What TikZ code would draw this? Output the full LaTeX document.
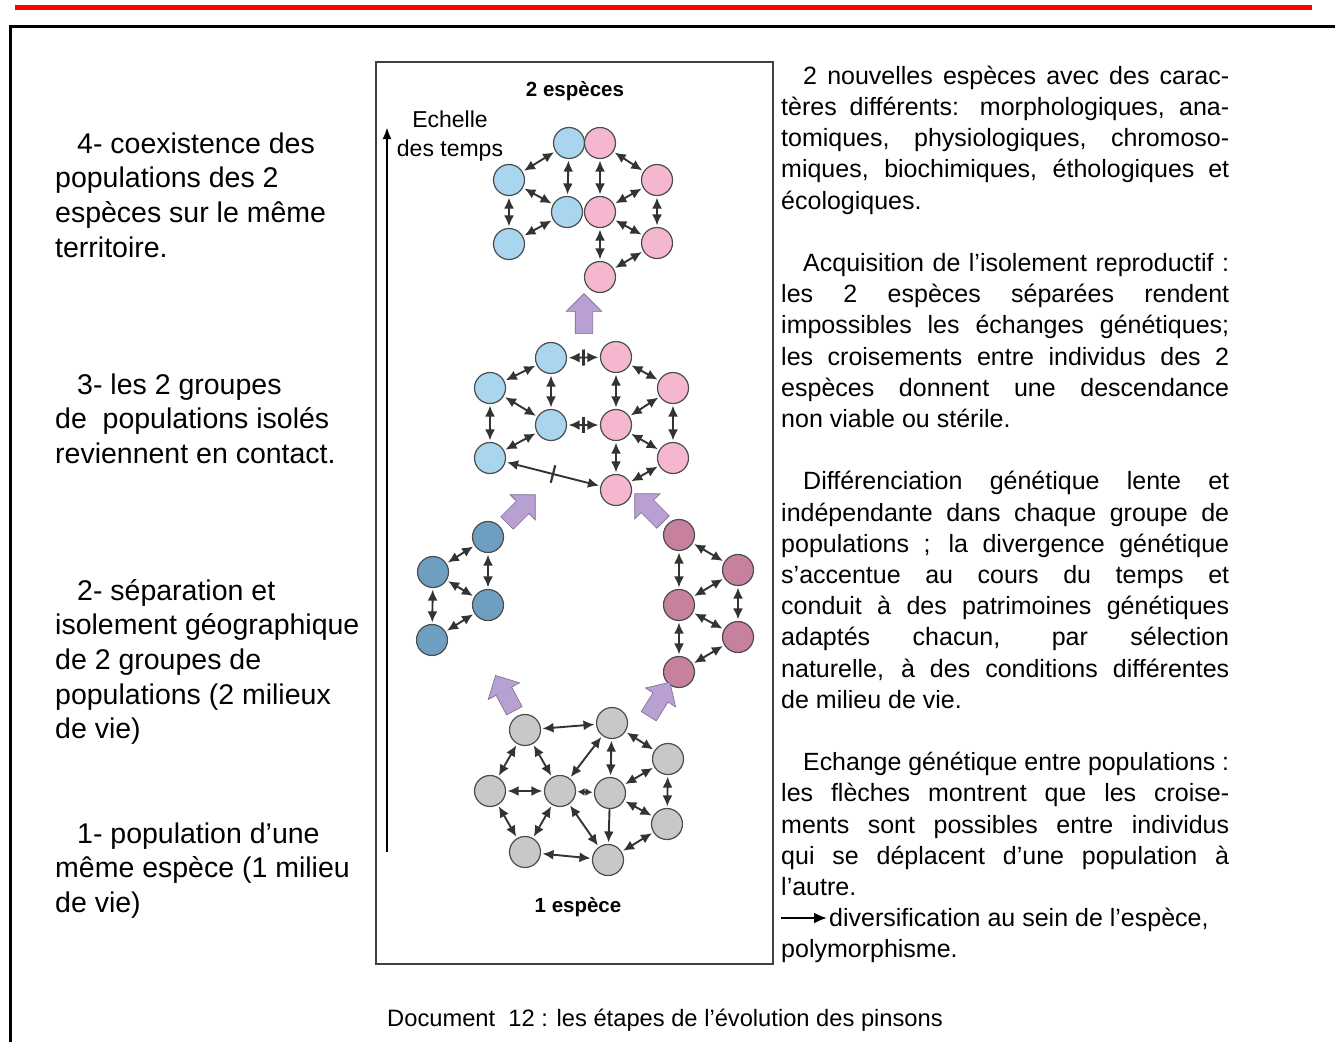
\documentclass[tikz,border=0pt]{standalone}
\usepackage{fontspec}
\setmainfont{Liberation Sans}
\usepackage{graphicx}
\usetikzlibrary{
  arrows.meta,
  positioning,
  shapes.arrows,
  calc
}
\definecolor{evblue}{HTML}{A9D5EF}
\definecolor{evpink}{HTML}{F5B7CF}
\definecolor{evbluedk}{HTML}{6E9EC0}
\definecolor{evpinkdk}{HTML}{C7809E}
\definecolor{evgrey}{HTML}{C8C8C8}
\definecolor{evlink}{HTML}{333333}
\definecolor{evpurple}{HTML}{B9A0D3}
\definecolor{evpurpledk}{HTML}{7C6893}
\definecolor{evred}{HTML}{FF0000}

\newcommand{\jl}[1]{\makebox[448pt][s]{#1}}
\newcommand{\jf}[1]{\hspace*{22pt}\makebox[426pt][s]{#1}}
\newcommand{\lstrut}{\rule{0pt}{22pt}}

\begin{document}
\begin{tikzpicture}[
  x=1pt, y=-1pt,
  every node/.style={inner sep=0pt},
  pop/.style={circle, draw=black!70, line width=1.2pt, minimum size=31pt, inner sep=0pt},
  lien/.style={{Latex[length=11pt,width=10pt]}-{Latex[length=11pt,width=10pt]},
    line width=1.9pt, evlink, shorten <=1.5pt, shorten >=1.5pt},
  lienun/.style={-{Latex[length=11pt,width=10pt]}, line width=1.9pt, evlink, shorten >=1.5pt},
  barre/.style={line width=2.8pt, evlink},
  fleche/.style={single arrow, draw=evpurpledk, fill=evpurple, line width=0.6pt,
    inner sep=8.5pt, minimum height=40pt, single arrow head extend=9pt},
  leftTxt/.style={anchor=north west, align=left, font=\fontsize{28.5}{34.6}\selectfont},
  rightTxt/.style={anchor=north west, align=left, font=\fontsize{25}{31.2}\selectfont},
  tag/.style={font=\bfseries\fontsize{20.5}{24}\selectfont}
]
  \useasboundingbox (0,0) rectangle (1335,1042);

  % Page frame
  \draw[evred, line width=5pt] (15,7) -- (1312,7);
  \draw[line width=3pt] (10,1042) -- (10,26) -- (1335,26);

  % Figure frame
  \draw[line width=1.5pt, black!75] (376,62) rectangle (773,964);
  \node[tag] (tagTwo) at (575,91) {2 espèces};
  \node[tag] (tagOne) at (578,907) {1 espèce};

  % Time scale
  \coordinate (timeLow) at (387,852);
  \coordinate (timeHigh) at (387,127);
  \draw[-{Latex[length=12pt,width=9pt]}, line width=2.4pt] (timeLow) -- (timeHigh);
  \node[align=center, font=\fontsize{23}{29}\selectfont] (timeTxt) at (450,136)
    {Echelle\\des temps};

  % Stage 4: two species
  \node[pop, fill=evblue] (bT1) at (569,143) {};
  \node[pop, fill=evblue] (bT2) at (509,180) {};
  \node[pop, fill=evblue] (bT3) at (567,212) {};
  \node[pop, fill=evblue] (bT4) at (509,244) {};
  \node[pop, fill=evpink] (pT1) at (600,143) {};
  \node[pop, fill=evpink] (pT2) at (657,180) {};
  \node[pop, fill=evpink] (pT3) at (600,212) {};
  \node[pop, fill=evpink] (pT4) at (657,243) {};
  \node[pop, fill=evpink] (pT5) at (600,277) {};

  \draw[lien] (bT1) -- (bT2);
  \draw[lien] (bT1) -- (bT3);
  \draw[lien] (bT2) -- (bT3);
  \draw[lien] (bT2) -- (bT4);
  \draw[lien] (bT3) -- (bT4);
  \draw[lien] (pT1) -- (pT2);
  \draw[lien] (pT1) -- (pT3);
  \draw[lien] (pT2) -- (pT3);
  \draw[lien] (pT2) -- (pT4);
  \draw[lien] (pT3) -- (pT4);
  \draw[lien] (pT3) -- (pT5);
  \draw[lien] (pT4) -- (pT5);

  \node[fleche, rotate=90] (arrTop) at (584,318) {};

  % Stage 3: back in contact
  \node[pop, fill=evblue] (bM1) at (551,358) {};
  \node[pop, fill=evblue] (bM2) at (490,388) {};
  \node[pop, fill=evblue] (bM3) at (551,425) {};
  \node[pop, fill=evblue] (bM4) at (490,458) {};
  \node[pop, fill=evpink] (pM1) at (616,357) {};
  \node[pop, fill=evpink] (pM2) at (673,388) {};
  \node[pop, fill=evpink] (pM3) at (616,425) {};
  \node[pop, fill=evpink] (pM4) at (673,458) {};
  \node[pop, fill=evpink] (pM5) at (616,490) {};

  \draw[lien] (bM1) -- (bM2);
  \draw[lien] (bM1) -- (bM3);
  \draw[lien] (bM2) -- (bM3);
  \draw[lien] (bM2) -- (bM4);
  \draw[lien] (bM3) -- (bM4);
  \draw[lien] (pM1) -- (pM2);
  \draw[lien] (pM1) -- (pM3);
  \draw[lien] (pM2) -- (pM3);
  \draw[lien] (pM2) -- (pM4);
  \draw[lien] (pM3) -- (pM4);
  \draw[lien] (pM3) -- (pM5);
  \draw[lien] (pM4) -- (pM5);

  % Blocked exchanges
  \draw[lien] (bM1) -- (pM1);
  \draw[lien] (bM3) -- (pM3);
  \draw[lien] (bM4) -- (pM5);
  \coordinate (barA) at ($(bM1)!0.5!(pM1)$);
  \coordinate (barB) at ($(bM3)!0.5!(pM3)$);
  \coordinate (barC) at ($(bM4)!0.5!(pM5)$);
  \draw[barre] ($(barA)!8pt!90:(pM1)$) -- ($(barA)!8pt!-90:(pM1)$);
  \draw[barre] ($(barB)!8pt!90:(pM3)$) -- ($(barB)!8pt!-90:(pM3)$);
  \draw[barre, line width=2.2pt] ($(barC)!9pt!90:(pM5)$) -- ($(barC)!9pt!-90:(pM5)$);

  \node[fleche, rotate=45] (arrLeftUp) at (518,512) {};
  \node[fleche, rotate=135] (arrRightUp) at (652,511) {};

  % Stage 2: geographic separation
  \node[pop, fill=evbluedk] (bS1) at (488,537) {};
  \node[pop, fill=evbluedk] (bS2) at (433,572) {};
  \node[pop, fill=evbluedk] (bS3) at (488,605) {};
  \node[pop, fill=evbluedk] (bS4) at (432,640) {};
  \node[pop, fill=evpinkdk] (pS1) at (679,535) {};
  \node[pop, fill=evpinkdk] (pS2) at (738,570) {};
  \node[pop, fill=evpinkdk] (pS3) at (679,605) {};
  \node[pop, fill=evpinkdk] (pS4) at (738,637) {};
  \node[pop, fill=evpinkdk] (pS5) at (679,672) {};

  \draw[lien] (bS1) -- (bS2);
  \draw[lien] (bS1) -- (bS3);
  \draw[lien] (bS2) -- (bS3);
  \draw[lien] (bS2) -- (bS4);
  \draw[lien] (bS3) -- (bS4);
  \draw[lien] (pS1) -- (pS2);
  \draw[lien] (pS1) -- (pS3);
  \draw[lien] (pS2) -- (pS3);
  \draw[lien] (pS2) -- (pS4);
  \draw[lien] (pS3) -- (pS4);
  \draw[lien] (pS3) -- (pS5);
  \draw[lien] (pS4) -- (pS5);

  \node[fleche, rotate=118] (arrLeftLow) at (507,697) {};
  \node[fleche, rotate=58] (arrRightLow) at (657,703) {};

  % Stage 1: one species
  \node[pop, fill=evgrey] (g1) at (525,730) {};
  \node[pop, fill=evgrey] (g2) at (612,723) {};
  \node[pop, fill=evgrey] (g3) at (668,759) {};
  \node[pop, fill=evgrey] (g4) at (490,791) {};
  \node[pop, fill=evgrey] (g5) at (560,791) {};
  \node[pop, fill=evgrey] (g6) at (610,793) {};
  \node[pop, fill=evgrey] (g7) at (667,824) {};
  \node[pop, fill=evgrey] (g8) at (525,852) {};
  \node[pop, fill=evgrey] (g9) at (608,860) {};

  \draw[lien] (g1) -- (g2);
  \draw[lien] (g1) -- (g4);
  \draw[lien] (g1) -- (g5);
  \draw[lien] (g2) -- (g5);
  \draw[lien] (g2) -- (g6);
  \draw[lien] (g2) -- (g3);
  \draw[lien] (g3) -- (g6);
  \draw[lien] (g3) -- (g7);
  \draw[lien] (g4) -- (g5);
  \draw[lien] (g4) -- (g8);
  \draw[lien] (g5) -- (g8);
  \draw[lien, {Latex[length=7pt,width=8pt]}-{Latex[length=7pt,width=8pt]}] (g5) -- (g6);
  \draw[lien] (g5) -- (g9);
  \draw[lien] (g6) -- (g7);
  \draw[lienun] (g6) -- (g9);
  \draw[lien] (g7) -- (g9);
  \draw[lien] (g8) -- (g9);

  % Left legends
  \node[leftTxt] (stage4Txt) at (55,131)
    {\lstrut\hspace*{22pt}4- coexistence des\\populations des 2\\espèces sur le même\\territoire.};
  \node[leftTxt] (stage3Txt) at (55,372)
    {\lstrut\hspace*{22pt}3- les 2 groupes\\de~ populations isolés\\reviennent en contact.};
  \node[leftTxt] (stage2Txt) at (55,578)
    {\lstrut\hspace*{22pt}2- séparation et\\isolement géographique\\de 2 groupes de\\populations (2 milieux\\de vie)};
  \node[leftTxt] (stage1Txt) at (55,821)
    {\lstrut\hspace*{22pt}1- population d'une\\même espèce (1 milieu\\de vie)};

  % Right explanations
  \node[rightTxt] (explTxt) at (781,62)
    {\lstrut\jf{2 nouvelles espèces avec des carac-}\\
     \jl{tères différents: morphologiques, ana-}\\
     \jl{tomiques, physiologiques, chromoso-}\\
     \jl{miques, biochimiques, éthologiques et}\\
     écologiques.\\[31.2pt]
     \jf{Acquisition de l'isolement reproductif :}\\
     \jl{les 2 espèces séparées rendent}\\
     \jl{impossibles les échanges génétiques;}\\
     \jl{les croisements entre individus des 2}\\
     \jl{espèces donnent une descendance}\\
     non viable ou stérile.\\[31.2pt]
     \jf{Différenciation génétique lente et}\\
     \jl{indépendante dans chaque groupe de}\\
     \jl{populations ; la divergence génétique}\\
     \jl{s'accentue au cours du temps et}\\
     \jl{conduit à des patrimoines génétiques}\\
     \jl{adaptés chacun, par sélection}\\
     \jl{naturelle, à des conditions différentes}\\
     de milieu de vie.\\[31.2pt]
     \hspace*{22pt}\makebox[426pt][l]{\resizebox{426pt}{!}{Echange génétique entre populations :}}\\
     \jl{les flèches montrent que les croise-}\\
     \jl{ments sont possibles entre individus}\\
     \jl{qui se déplacent d'une population à}\\
     l'autre.\\
     \hspace*{48pt}diversification au sein de l'espèce,\\
     polymorphisme.};
  \coordinate (divStart) at (781,918);
  \coordinate (divEnd) at (827,918);
  \draw[-{Latex[length=13pt,width=11pt]}, line width=2.2pt] (divStart) -- (divEnd);

  % Caption
  \node[font=\fontsize{23.7}{28}\selectfont] (caption) at (665,1020)
    {Document~ 12 : les étapes de l'évolution des pinsons};
\end{tikzpicture}
\end{document}
